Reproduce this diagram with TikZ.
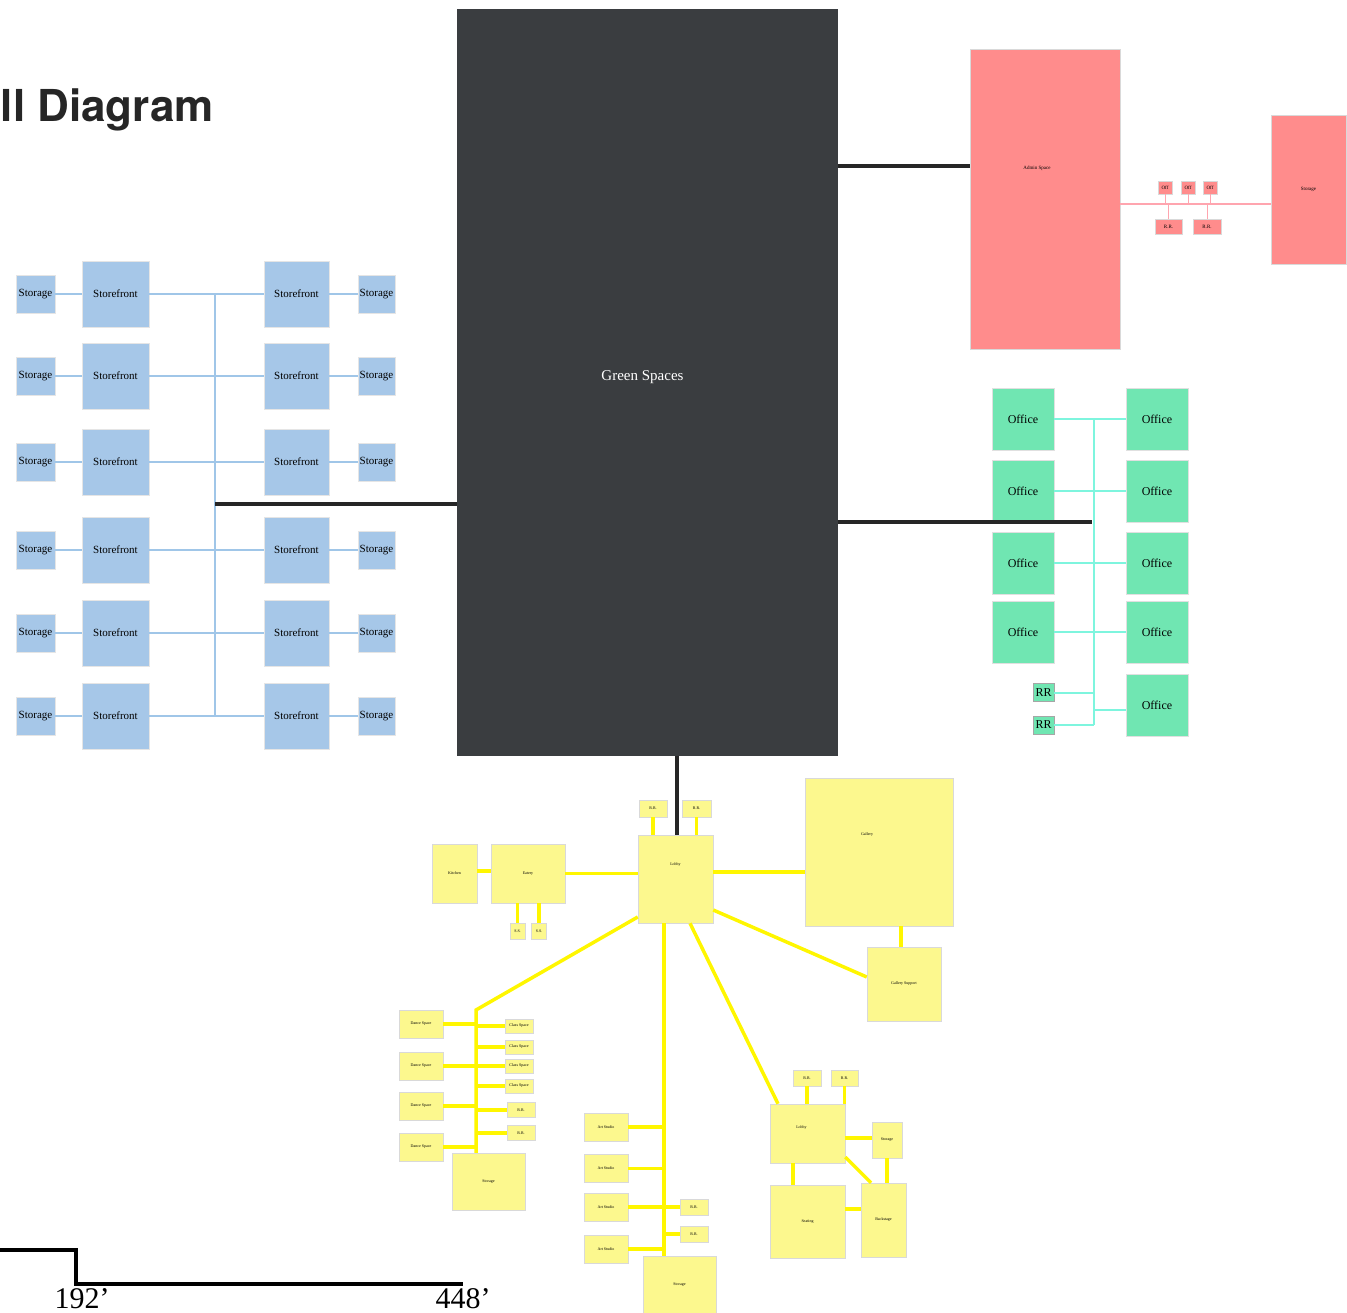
\documentclass[tikz,border=0pt]{standalone}
\usepackage{fontspec}
\setmainfont{Liberation Serif}
\newfontfamily\titlefont{TeX Gyre Heros}
\usetikzlibrary{positioning}
\definecolor{GreenDark}{RGB}{58,61,64}
\definecolor{RedFill}{RGB}{255,140,140}
\definecolor{RedLine}{RGB}{255,165,175}
\definecolor{BlueFill}{RGB}{166,199,232}
\definecolor{BlueLine}{RGB}{160,198,232}
\definecolor{MintFill}{RGB}{112,230,178}
\definecolor{MintLine}{RGB}{126,245,222}
\definecolor{YellowFill}{RGB}{252,248,142}
\definecolor{YellowLine}{RGB}{255,246,0}

\tikzset{
  redbox/.style={draw=black!15, line width=0.5pt, fill=RedFill, font=\fontsize{5}{6}\selectfont},
  bluebox/.style={draw=black!10, line width=0.5pt, fill=BlueFill, font=\fontsize{11}{13}\selectfont},
  mintbox/.style={draw=black!12, line width=0.5pt, fill=MintFill, font=\fontsize{12}{14}\selectfont},
  yelbox/.style={draw=black!15, line width=0.5pt, fill=YellowFill, font=\fontsize{4}{5}\selectfont},
  bigline/.style={line width=4pt, draw=black!85},
  redline/.style={line width=2pt, draw=RedLine},
  blueline/.style={line width=1.3pt, draw=BlueLine},
  mintline/.style={line width=2pt, draw=MintLine},
  yelline/.style={line width=3.5pt, draw=YellowLine},
}

\begin{document}
\begin{tikzpicture}[x=1pt, y=-1pt, every node/.style={align=center, inner sep=0pt}]
\useasboundingbox (0,0) rectangle (1347,1313);

% title and scale
\node[anchor=base east, font=\titlefont\bfseries\fontsize{44}{50}\selectfont, text=black!85] (title) at (214,122) {Overall Diagram};
\draw[line width=4pt] (-20,1250) -- (76,1250) -- (76,1284) -- (463,1284);
\node[anchor=north, font=\fontsize{30}{34}\selectfont] (d192) at (82,1288) {192’};
\node[anchor=north, font=\fontsize{30}{34}\selectfont] (d448) at (463,1288) {448’};

% centre
\node[fill=GreenDark, minimum width=381, minimum height=747, label={[text=white, font=\fontsize{15}{18}\selectfont, xshift=-5, yshift=5]center:Green Spaces}] (green) at (647.5,382.5) {};

% red block
\node[redbox, minimum width=150, minimum height=300, label={[font=\fontsize{5}{6}\selectfont, yshift=31, xshift=-8]center:Admin Space}] (admin) at (1045,199) {};
\node[redbox, minimum width=75, minimum height=149] (rstore) at (1308.5,189.5) {Storage};
\draw[redline] (admin.east |- 0,204) -- (rstore.west |- 0,204);
\foreach \x [count=\i] in {1165,1188,1210} {
  \node[redbox, minimum width=14, minimum height=13] (off\i) at (\x,187.5) {Off};
  \draw[redline, line width=1pt] (off\i) -- (off\i |- 0,204);
}
\node[redbox, minimum width=27, minimum height=15] (rrr1) at (1168.5,226.5) {R.R.};
\node[redbox, minimum width=28, minimum height=15] (rrr2) at (1207,226.5) {R.R.};
\draw[redline, line width=1pt] (rrr1) -- (rrr1 |- 0,204);
\draw[redline, line width=1pt] (rrr2) -- (rrr2 |- 0,204);
\draw[bigline] (green.east |- 0,166) -- (admin.west |- 0,166);

% blue block
\foreach \y [count=\i] in {294,376,462,550,633,716} {
  \node[bluebox, minimum width=39, minimum height=38] (sl\i) at (35.5,\y) {Storage};
  \node[bluebox, minimum width=67, minimum height=66] (fl\i) at (115.5,\y) {Storefront};
  \node[bluebox, minimum width=65, minimum height=66] (fr\i) at (296.5,\y) {Storefront};
  \node[bluebox, minimum width=37, minimum height=38] (sr\i) at (376.5,\y) {Storage};
  \coordinate (spine\i) at (215,\y);
  \draw[blueline] (sl\i) -- (fl\i);
  \draw[blueline] (fl\i) -- (spine\i) -- (fr\i);
  \draw[blueline] (fr\i) -- (sr\i);
}
\draw[blueline] (spine1) -- (spine6);
\coordinate (bspine) at (215,504);
\draw[bigline] (bspine) -- (bspine -| green.west);

% mint block
\coordinate (mspine1) at (1094,419);
\coordinate (mspine2) at (1094,725);
\foreach \y [count=\i] in {419,491,563,632} {
  \node[mintbox, minimum width=62, minimum height=62] (ol\i) at (1023,\y) {Office};
  \node[mintbox, minimum width=62, minimum height=62] (or\i) at (1157,\y) {Office};
  \draw[mintline] (ol\i) -- (ol\i -| mspine1) -- (or\i);
}
\node[mintbox, minimum width=62, minimum height=62] (or5) at (1157,705) {Office};
\node[mintbox, draw=black!35, minimum width=21, minimum height=18] (orr1) at (1043.5,692.5) {RR};
\node[mintbox, draw=black!35, minimum width=21, minimum height=18] (orr2) at (1043.5,725) {RR};
\draw[mintline] (mspine1) -- (mspine2);
\draw[mintline] (or5.west |- 0,710) -- (mspine1 |- 0,710);
\draw[mintline] (orr1) -- (orr1 -| mspine1);
\draw[mintline] (orr2) -- (orr2 -| mspine1);
\draw[bigline] (green.east |- 0,522) -- (1092,522);

% yellow block
\node[yelbox, minimum width=75, minimum height=88, label={[font=\fontsize{4}{5}\selectfont, yshift=14]center:Lobby}] (lobby) at (675.5,879) {};
\node[yelbox, minimum width=28, minimum height=17] (yrr1) at (653,808.5) {R.R.};
\node[yelbox, minimum width=29, minimum height=17] (yrr2) at (696.5,808.5) {R.R.};
\draw[yelline] (yrr1) -- (yrr1 |- lobby.north);
\draw[yelline] (yrr2) -- (yrr2 |- lobby.north);
\draw[bigline] (green.south -| 677,0) -- (lobby.north -| 677,0);
\node[yelbox, minimum width=45, minimum height=59] (kitchen) at (454.5,873.5) {Kitchen};
\node[yelbox, minimum width=74, minimum height=59] (eatery) at (528,873.5) {Eatery};
\node[yelbox, minimum width=15, minimum height=16] (yss1) at (517.5,931) {S.S.};
\node[yelbox, minimum width=15, minimum height=16] (yss2) at (539,931) {S.S.};
\draw[yelline] (kitchen.east |- 0,871) -- (eatery.west |- 0,871);
\draw[yelline] (eatery.east) -- (eatery.east -| lobby.west);
\draw[yelline] (yss1) -- (yss1 |- eatery.south);
\draw[yelline] (yss2) -- (yss2 |- eatery.south);
\node[yelbox, minimum width=148, minimum height=148, label={[font=\fontsize{4}{5}\selectfont, yshift=17, xshift=-12]center:Gallery}] (gallery) at (879,852) {};
\node[yelbox, minimum width=74, minimum height=74] (gsupport) at (904,984) {Gallery Support};
\draw[yelline] (lobby.east |- 0,872) -- (gallery.west |- 0,872);
\draw[yelline] (gallery.south -| 901,0) -- (gsupport.north -| 901,0);
\draw[yelline] (lobby.east |- 0,910) -- (gsupport.west |- 0,977);

% dance wing
\coordinate (lspine) at (476,1010);
\node[yelbox, minimum width=73, minimum height=57] (lstore) at (488.5,1181.5) {Storage};
\draw[yelline] (lobby.west |- 0,917) -- (lspine) -- (lspine |- lstore.north);
\foreach \y [count=\i] in {1024,1066,1106,1147} {
  \node[yelbox, minimum width=44, minimum height=28] (dance\i) at (421,\y) {Dance Space};
  \draw[yelline] (dance\i) -- (dance\i -| lspine);
}
\foreach \y [count=\i] in {1026,1047,1066,1086} {
  \node[yelbox, minimum width=28, minimum height=14] (class\i) at (519,\y) {Class Space};
  \draw[yelline] (class\i) -- (class\i -| lspine);
}
\foreach \y [count=\i] in {1110,1133} {
  \node[yelbox, minimum width=28, minimum height=15] (drr\i) at (521,\y) {R.R.};
  \draw[yelline] (drr\i) -- (drr\i -| lspine);
}

% studio wing
\coordinate (mspine) at (664,923);
\node[yelbox, minimum width=73, minimum height=58] (theatre) at (679.5,1285) {Storage};
\draw[yelline] (mspine) -- (mspine |- theatre.north);
\foreach \y [count=\i] in {1127,1168.5,1207,1249} {
  \node[yelbox, minimum width=44, minimum height=28] (art\i) at (606,\y) {Art Studio};
  \draw[yelline] (art\i) -- (art\i -| mspine);
}
\foreach \y [count=\i] in {1207,1234} {
  \node[yelbox, minimum width=28, minimum height=16] (arr\i) at (694,\y) {R.R.};
  \draw[yelline] (arr\i) -- (arr\i -| mspine);
}

% stage wing
\node[yelbox, minimum width=75, minimum height=59, label={[font=\fontsize{4}{5}\selectfont, yshift=6, xshift=-6]center:Lobby}] (lobby2) at (807.5,1133.5) {};
\node[yelbox, minimum width=28, minimum height=16] (srr1) at (807,1078) {R.R.};
\node[yelbox, minimum width=27, minimum height=16] (srr2) at (844.5,1078) {R.R.};
\node[yelbox, minimum width=30, minimum height=36] (store2) at (887,1140) {Storage};
\node[yelbox, minimum width=75, minimum height=73] (seating) at (807.5,1221.5) {Seating};
\node[yelbox, minimum width=45, minimum height=74] (backstage) at (883.5,1220) {Backstage};
\draw[yelline] (lobby.south -| 690,0) -- (lobby2.north -| 778,0);
\draw[yelline] (srr1) -- (srr1 |- lobby2.north);
\draw[yelline] (srr2) -- (srr2 |- lobby2.north);
\draw[yelline] (lobby2.east |- 0,1138) -- (store2.west |- 0,1138);
\draw[yelline] (lobby2.south -| 793,0) -- (seating.north -| 793,0);
\draw[yelline] (seating.east |- 0,1209) -- (backstage.west |- 0,1209);
\draw[yelline] (store2) -- (store2 |- backstage.north);
\draw[yelline] (lobby2.east |- 0,1157) -- (backstage.north -| 871,0);
\end{tikzpicture}
\end{document}
